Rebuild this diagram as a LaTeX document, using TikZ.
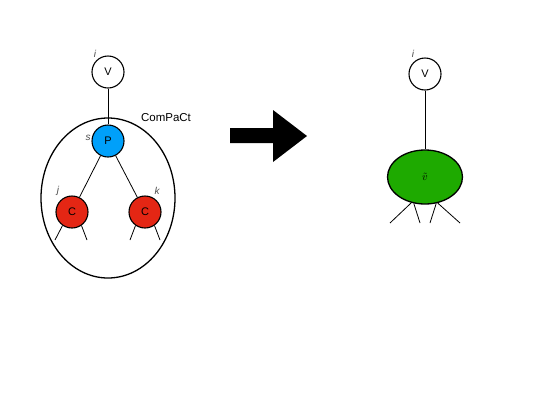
\documentclass[tikz,border=0pt]{standalone}
\usepackage{fontspec}
\setmainfont{Liberation Sans}
\usepackage{tikz}
\usetikzlibrary{shapes.geometric, positioning, calc}
\definecolor{pblue}{RGB}{0,160,250}
\definecolor{cred}{RGB}{228,38,20}
\definecolor{vgreen}{RGB}{30,170,0}

\begin{document}
\begin{tikzpicture}[
    x=1pt, y=-1pt,
    vert/.style={circle, draw=black, line width=1.1pt, minimum size=32pt, inner sep=0pt, font=\fontsize{11}{13}\selectfont},
    blob/.style={ellipse, draw=black, line width=1.3pt, inner sep=0pt},
    tag/.style={font=\fontsize{10}{12}\selectfont\itshape, text=black!70},
    edge/.style={line width=0.8pt}
]
\useasboundingbox (0,0) rectangle (537,405);

% Nodes (left)
\node[vert] (v) at (108,72) {V};
\node[blob, minimum width=134pt, minimum height=160pt] (compact) at (108,198) {};
\node[vert, fill=pblue] (p) at (108,141) {P};
\node[vert, fill=cred] (cj) at (72,212) {C};
\node[vert, fill=cred] (ck) at (145,212) {C};
\node[font=\fontsize{11.5}{13}\selectfont] (cname) at (166,118) {ComPaCt};
\node[tag] (li) at (95,54) {i};
\node[tag] (ls) at (88,138) {s};
\node[tag] (lj) at (58,191) {j};
\node[tag] (lk) at (157,191) {k};

% Nodes (right)
\node[vert] (w) at (425,74) {V};
\node[blob, fill=vgreen, minimum width=75pt, minimum height=54pt, font=\fontsize{11}{13}\selectfont] (vt) at (425,177) {$\tilde{v}$};
\node[tag] (wi) at (413,54) {i};

% leg ends
\coordinate (a1) at (55,240);
\coordinate (a2) at (87,240);
\coordinate (b1) at (130,240);
\coordinate (b2) at (160,240);
\coordinate (g1) at (390,223);
\coordinate (g2) at (420,223);
\coordinate (g3) at (430,223);
\coordinate (g4) at (460,223);

% Edges
\draw[edge] (v) -- (p);
\draw[edge] (p) -- (cj);
\draw[edge] (p) -- (ck);
\draw[edge] (cj.235) -- (a1);
\draw[edge] (cj.305) -- (a2);
\draw[edge] (ck.235) -- (b1);
\draw[edge] (ck.305) -- (b2);
\draw[edge] (w) -- (vt);
\draw[edge] (vt.242) -- (g1);
\draw[edge] (vt.247) -- (g2);
\draw[edge] (vt.293) -- (g3);
\draw[edge] (vt.296) -- (g4);

% big arrow
\fill (230,128) -- (273,128) -- (273,110) -- (307,136) -- (273,162) -- (273,143) -- (230,143) -- cycle;

\end{tikzpicture}
\end{document}
